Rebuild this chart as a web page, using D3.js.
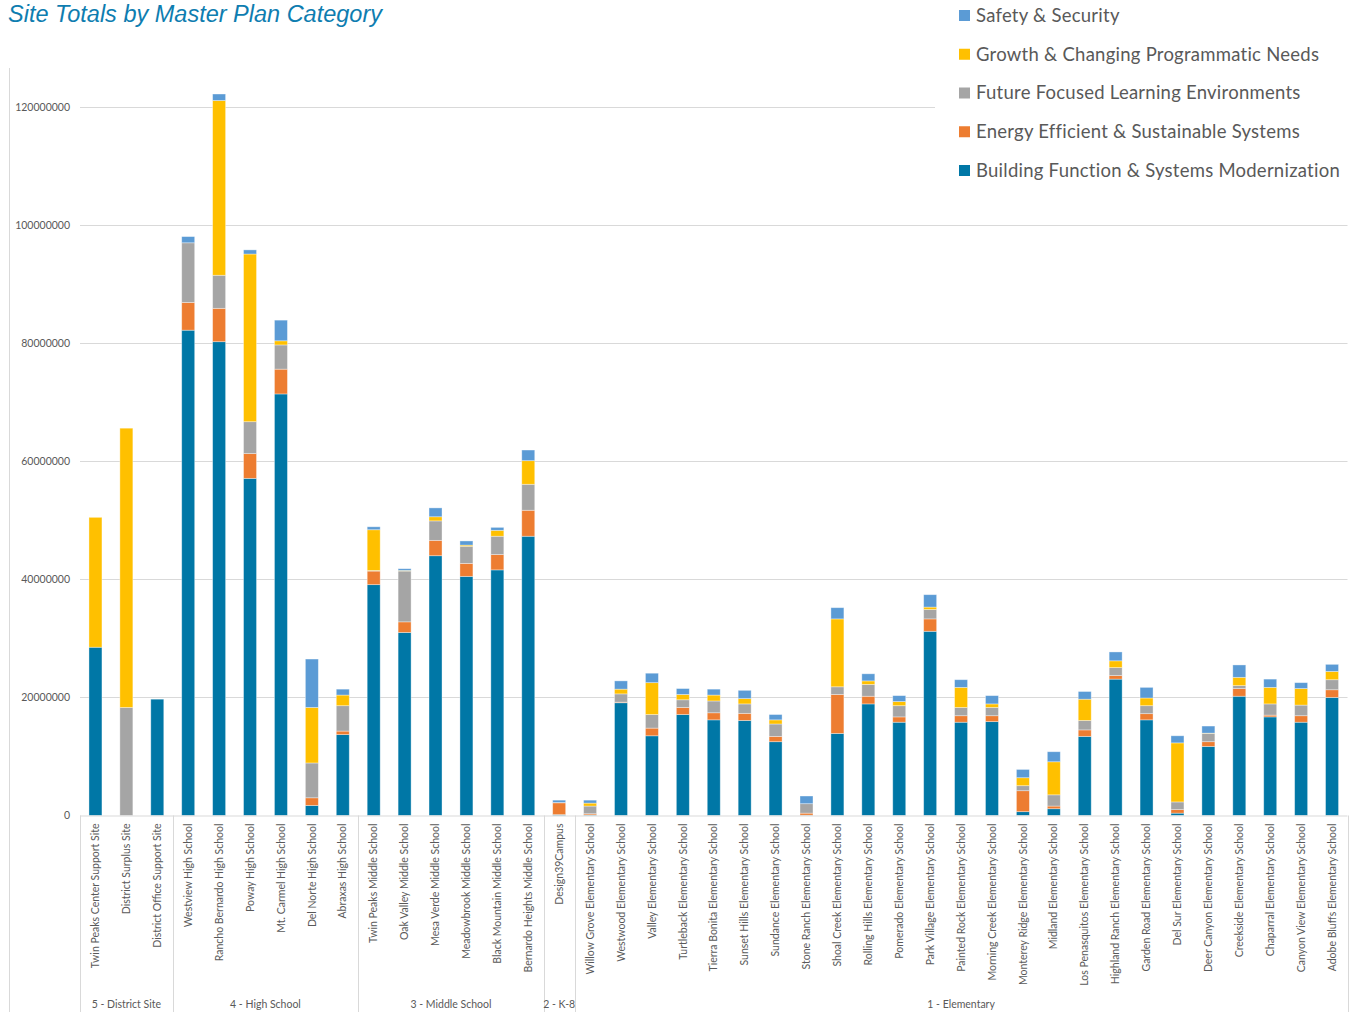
<!DOCTYPE html>
<html>
<head>
<meta charset="utf-8">
<script src="https://cdn.jsdelivr.net/npm/d3@7"></script>
<style>
  html, body { margin: 0; padding: 0; background: #fff; }
  svg { display: block; }
</style>
</head>
<body>
<svg id="chart" width="1357" height="1012"></svg>
<script>
// ---- DATA (values in millions of dollars) ----
const categories = [
  "Twin Peaks Center Support Site","District Surplus Site","District Office Support Site",
  "Westview High School","Rancho Bernardo High School","Poway High School","Mt. Carmel High School","Del Norte High School","Abraxas High School",
  "Twin Peaks Middle School","Oak Valley Middle School","Mesa Verde Middle School","Meadowbrook Middle School","Black Mountain Middle School","Bernardo Heights Middle School",
  "Design39Campus",
  "Willow Grove Elementary School","Westwood Elementary School","Valley Elementary School","Turtleback Elementary School","Tierra Bonita Elementary School","Sunset Hills Elementary School","Sundance Elementary School","Stone Ranch Elementary School","Shoal Creek Elementary School","Rolling Hills Elementary School","Pomerado Elementary School","Park Village Elementary School","Painted Rock Elementary School","Morning Creek Elementary School","Monterey Ridge Elementary School","Midland Elementary School","Los Penasquitos Elementary School","Highland Ranch Elementary School","Garden Road Elementary School","Del Sur Elementary School","Deer Canyon Elementary School","Creekside Elementary School","Chaparral Elementary School","Canyon View Elementary School","Adobe Bluffs Elementary School"
];
const groupNames = ["5 - District Site","4 - High School","3 - Middle School","2 - K-8","1 - Elementary"];
const groupSizes = [3, 6, 6, 1, 25];

const seriesNames = [
  "Building Function & Systems Modernization",
  "Energy Efficient & Sustainable Systems",
  "Future Focused Learning Environments",
  "Growth & Changing Programmatic Needs",
  "Safety & Security"
];
const buildingFunction = [28.5,0,19.7, 82.2,80.25,57.1,71.4,1.7,13.7, 39.1,31.0,44.0,40.5,41.6,47.3, 0.15,
  0.1,19.1,13.5,17.1,16.2,16.1,12.5,0.05,13.9,18.9, 15.8,31.2,15.8,15.9,0.65,1.15,13.4,23.1,16.2,0.4, 11.7,20.2,16.7,15.8,20.0];
const energyEfficient = [0,0,0, 4.7,5.65,4.2,4.2,1.3,0.6, 2.3,1.8,2.6,2.2,2.6,4.4, 2.0,
  0.2,0.1,1.3,1.2,1.2,1.2,0.9,0.35,6.6,1.3, 0.9,2.1,1.1,1.0,3.55,0.45,1.1,0.6,1.05,0.6, 0.8,1.3,0.3,1.1,1.3];
const futureFocused = [0,18.3,0, 10.1,5.6,5.4,4.1,5.9,4.3, 0.1,8.6,3.3,2.9,3.1,4.4, 0.05,
  1.3,1.4,2.3,1.3,2.0,1.6,2.1,1.6,1.3,2.0, 1.9,1.6,1.4,1.4,0.85,1.9,1.6,1.35,1.35,1.3, 1.4,0.5,1.9,1.8,1.7];
const growthNeeds = [22.0,47.3,0, 0,29.6,28.4,0.7,9.4,1.8, 6.9,0.1,0.7,0.2,1.0,4.0, 0,
  0.5,0.8,5.4,0.9,1.0,0.9,0.7,0,11.5,0.6, 0.7,0.4,3.4,0.6,1.35,5.6,3.6,1.15,1.3,10.0, 0.05,1.4,2.8,2.8,1.4];
const safetySecurity = [0,0,0, 1.05,1.1,0.7,3.5,8.2,1.0, 0.5,0.3,1.5,0.7,0.5,1.8, 0.4,
  0.5,1.4,1.6,1.0,1.0,1.4,0.9,1.3,1.9,1.2, 1.0,2.1,1.3,1.4,1.4,1.7,1.3,1.5,1.8,1.2, 1.2,2.1,1.4,1.0,1.2];
const yTicks = [0, 20000000, 40000000, 60000000, 80000000, 100000000, 120000000];
const UNIT = 1e6;

const seriesColors = ["#0077A6", "#ED7D31", "#A5A5A5", "#FFC000", "#5B9BD5"];
const seriesValues = [buildingFunction, energyEfficient, futureFocused, growthNeeds, safetySecurity];

// ---- LAYOUT ----
const svg = d3.select("#chart");
const plot = { left: 80, right: 1347.5, top: 107, bottom: 815.5 };
const labelFont = "Lato, 'Liberation Sans', sans-serif";
const textColor = "#595959";

const x = d3.scaleBand().domain(categories).range([plot.left, plot.right])
  .paddingInner(0.58).paddingOuter(0.29);
const y = d3.scaleLinear().domain([0, 120000000]).range([plot.bottom, plot.top]);

// rows for stacking
const rows = categories.map((c, i) => {
  const r = { cat: c };
  seriesNames.forEach((s, k) => r[s] = seriesValues[k][i] * UNIT);
  return r;
});
const stacked = d3.stack().keys(seriesNames)(rows);

// chart border line (left)
svg.append("line").attr("x1", 9.5).attr("x2", 9.5).attr("y1", 68).attr("y2", 1012)
  .attr("stroke", "#D9D9D9").attr("stroke-width", 1);

// gridlines
svg.append("g").selectAll("line").data(yTicks.filter(d => d > 0)).join("line")
  .attr("x1", plot.left)
  .attr("x2", d => d === 120000000 ? 935 : plot.right)
  .attr("y1", d => Math.round(y(d)) + 0.5).attr("y2", d => Math.round(y(d)) + 0.5)
  .attr("stroke", "#D9D9D9").attr("stroke-width", 1);

// y axis labels
const yAxis = d3.axisLeft(y).tickValues(yTicks).tickFormat(d3.format("d")).tickSize(0).tickPadding(0);
const yg = svg.append("g").attr("transform", `translate(70,0)`).call(yAxis);
yg.select(".domain").remove();
yg.selectAll("text").attr("font-family", labelFont).attr("font-size", 10.5).attr("fill", textColor);

// bars
svg.append("g").selectAll("g").data(stacked).join("g")
  .attr("fill", (d, i) => seriesColors[i])
  .selectAll("rect").data(d => d).join("rect")
  .attr("x", d => x(d.data.cat))
  .attr("width", x.bandwidth())
  .attr("y", d => y(d[1]))
  .attr("height", d => Math.max(0, y(d[0]) - y(d[1])))
  .attr("stroke", "#ffffff").attr("stroke-opacity", 0.45).attr("stroke-width", 0.8);

// x axis baseline
svg.append("line").attr("x1", plot.left).attr("x2", plot.right)
  .attr("y1", plot.bottom + 0.5).attr("y2", plot.bottom + 0.5)
  .attr("stroke", "#D9D9D9").attr("stroke-width", 1);

// category labels
const xAxis = d3.axisBottom(x).tickSize(0).tickPadding(0);
const xg = svg.append("g").attr("transform", `translate(0,${plot.bottom})`).call(xAxis);
xg.select(".domain").remove();
xg.selectAll("text")
  .attr("font-family", labelFont).attr("font-size", 10.5).attr("fill", textColor)
  .attr("text-anchor", "end")
  .attr("transform", "rotate(-90)")
  .attr("x", -8).attr("y", 0).attr("dy", "0.35em");

// group separators and labels
let start = 0;
const bounds = [plot.left];
groupSizes.forEach(n => { start += n; bounds.push(plot.left + start * (plot.right - plot.left) / categories.length); });
svg.append("g").selectAll("line").data(bounds).join("line")
  .attr("x1", d => Math.round(d) + 0.5).attr("x2", d => Math.round(d) + 0.5)
  .attr("y1", plot.bottom).attr("y2", 1012)
  .attr("stroke", "#D9D9D9").attr("stroke-width", 1);
svg.append("g").selectAll("text").data(groupNames).join("text")
  .attr("x", (d, i) => (bounds[i] + bounds[i + 1]) / 2)
  .attr("y", 1008)
  .attr("text-anchor", "middle")
  .attr("font-family", labelFont).attr("font-size", 10.5).attr("fill", textColor)
  .text(d => d);

// title
svg.append("text").attr("x", 8).attr("y", 21.5)
  .attr("font-family", "'Liberation Sans', Arial, sans-serif").attr("font-style", "italic")
  .attr("font-size", 23.5).attr("fill", "#0E7DB0")
  .text("Site Totals by Master Plan Category");

// legend (reverse order: Safety on top)
const legendOrder = seriesNames.map((s, i) => ({ name: s, color: seriesColors[i] })).reverse();
const lg = svg.append("g").selectAll("g").data(legendOrder).join("g")
  .attr("transform", (d, i) => `translate(959,${15.5 + i * 38.75})`);
lg.append("rect").attr("x", 0).attr("y", -5.5).attr("width", 11).attr("height", 11)
  .attr("fill", d => d.color);
lg.append("text").attr("x", 17).attr("y", 0).attr("dy", "0.35em")
  .attr("font-family", labelFont).attr("font-size", 18.5).attr("fill", textColor)
  .attr("letter-spacing", "0.25px")
  .text(d => d.name);
</script>
</body>
</html>
